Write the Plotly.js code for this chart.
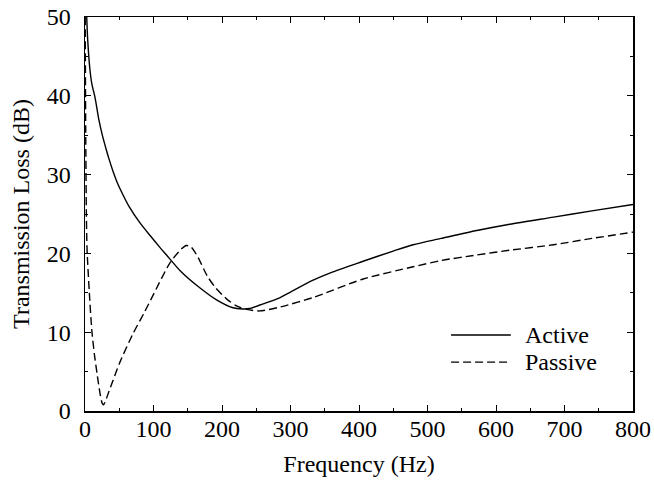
<!DOCTYPE html>
<html>
<head>
<meta charset="utf-8">
<script src="https://cdn.plot.ly/plotly-3.0.1.min.js"></script>
<style>body{margin:0;padding:0;background:#fff}#chart{width:654px;height:487px}</style>
</head>
<body>
<div id="chart"></div>
<script>
const activeFreq = [2.5, 4, 7, 10, 14.6, 20.4, 25, 31.6, 35, 41, 47, 55, 64, 80, 95.6, 109, 119, 140, 168, 192, 216, 230, 240, 260, 285, 300, 333, 360, 406, 450, 479, 520, 572, 620, 684, 740, 800];
const activeTL   = [50, 47, 43.5, 41.5, 39.8, 36.9, 35.1, 33.0, 32.0, 30.4, 29.0, 27.5, 26.0, 23.9, 22.2, 20.8, 19.8, 17.7, 15.6, 14.1, 13.1, 12.95, 13.0, 13.6, 14.4, 15.1, 16.6, 17.6, 19.0, 20.3, 21.1, 21.9, 22.9, 23.7, 24.6, 25.4, 26.2];
const passiveFreq = [0.3, 1, 2, 3, 6, 10, 14, 18, 22, 25, 27, 30, 35, 41, 51, 70, 86, 100, 124, 140, 148, 155, 165, 178, 190, 207, 222, 236, 255, 285, 333, 406, 479, 520, 572, 620, 684, 740, 800];
const passiveTL   = [50, 36, 25, 20.5, 15.5, 10.2, 7, 4.5, 2.2, 1.0, 0.8, 1.3, 2.5, 3.9, 6.2, 9.8, 12.4, 14.8, 18.8, 20.5, 21, 20.8, 19.5, 17.2, 15.7, 14.2, 13.3, 12.9, 12.7, 13.2, 14.4, 16.75, 18.3, 19.1, 19.8, 20.4, 21.1, 21.9, 22.7];
const seriesNames = ["Active", "Passive"];
const xTickVals = [0, 100, 200, 300, 400, 500, 600, 700, 800];
const yTickVals = [0, 10, 20, 30, 40, 50];
const xRange = [0, 800];
const yRange = [0, 50];

const fontFam = "Liberation Serif, Times New Roman, serif";
const fs = 24;
const traces = [
  {x: activeFreq, y: activeTL, name: seriesNames[0], mode: "lines", xaxis: "x", yaxis: "y",
   line: {color: "#000", width: 1.4, shape: "spline", smoothing: 0.7}},
  {x: passiveFreq, y: passiveTL, name: seriesNames[1], mode: "lines", xaxis: "x2", yaxis: "y2",
   line: {color: "#000", width: 1.4, dash: "8px,4px", shape: "spline", smoothing: 0.7}}
];

const axisCommon = {
  showgrid: false, zeroline: false, showline: true, linecolor: "#000", linewidth: 1.5,
  ticks: "inside", ticklen: 6, tickwidth: 1, tickcolor: "#000",
  tickfont: {family: fontFam, size: fs, color: "#000"}, fixedrange: true
};
const xMinor = {dtick: 50, tick0: 0, ticks: "inside", ticklen: 3, tickcolor: "#000", tickwidth: 1};
const yMinor = {dtick: 5, tick0: 0, ticks: "inside", ticklen: 3, tickcolor: "#000", tickwidth: 1};

const layout = {
  width: 654, height: 487,
  margin: {l: 85, r: 21, t: 17, b: 76},
  paper_bgcolor: "#fff", plot_bgcolor: "#fff",
  showlegend: false,
  font: {family: fontFam, color: "#000"},
  xaxis: Object.assign({}, axisCommon, {
    range: xRange, tickvals: xTickVals, ticklabelstandoff: -4, minor: xMinor,
    title: {text: "Frequency (Hz)", font: {family: fontFam, size: fs, color: "#000"}, standoff: 14}
  }),
  yaxis: Object.assign({}, axisCommon, {
    range: yRange, tickvals: yTickVals, ticklabelstandoff: 8, minor: yMinor,
    title: {text: "Transmission Loss (dB)", font: {family: fontFam, size: fs, color: "#000"}, standoff: 10}
  }),
  xaxis2: Object.assign({}, axisCommon, {
    range: xRange, tickvals: xTickVals, minor: xMinor, showticklabels: false,
    overlaying: "x", side: "top", anchor: "y2"
  }),
  yaxis2: Object.assign({}, axisCommon, {
    range: yRange, tickvals: yTickVals, minor: yMinor, showticklabels: false,
    overlaying: "y", side: "right", anchor: "x2"
  }),
  shapes: [
    {type: "line", xref: "paper", yref: "paper", x0: 0.668, x1: 0.777, y0: 0.193, y1: 0.193, line: {color: "#000", width: 1.4}},
    {type: "line", xref: "paper", yref: "paper", x0: 0.668, x1: 0.777, y0: 0.124, y1: 0.124, line: {color: "#000", width: 1.4, dash: "8px,4px"}}
  ],
  annotations: [
    {xref: "paper", yref: "paper", x: 0.800, y: 0.193, xanchor: "left", yanchor: "middle", text: seriesNames[0], showarrow: false, font: {family: fontFam, size: fs, color: "#000"}},
    {xref: "paper", yref: "paper", x: 0.800, y: 0.124, xanchor: "left", yanchor: "middle", text: seriesNames[1], showarrow: false, font: {family: fontFam, size: fs, color: "#000"}}
  ]
};

Plotly.newPlot("chart", traces, layout, {staticPlot: true, displayModeBar: false});
</script>
</body>
</html>
